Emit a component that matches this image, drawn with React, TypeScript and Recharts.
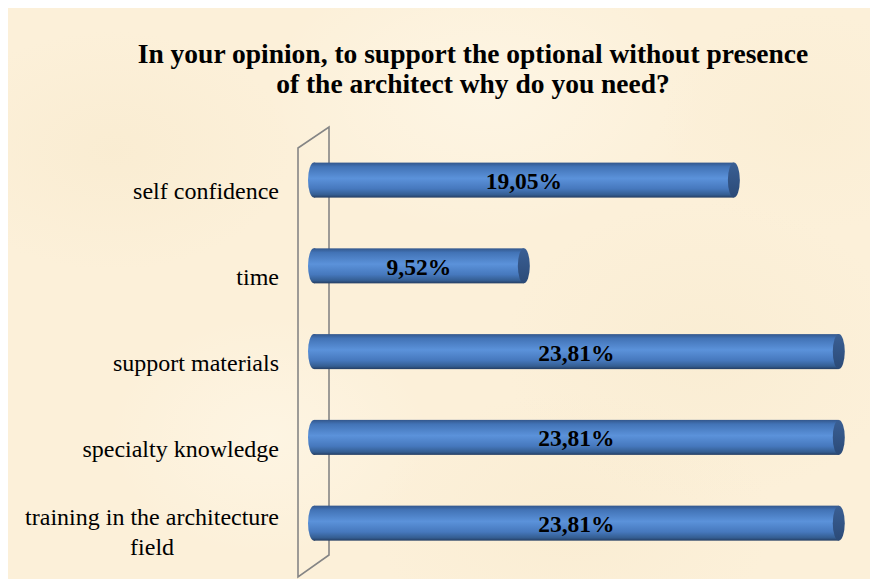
import React from "react";
import { BarChart, Bar, XAxis, YAxis, LabelList } from "recharts";

const categories = [
  "self confidence",
  "time",
  "support materials",
  "specialty knowledge",
  "training in the architecture\nfield",
];
const values = [19.05, 9.52, 23.81, 23.81, 23.81];
const titleLines = [
  "In your opinion, to support the optional without presence",
  "of the architect why do you need?",
];

const data = categories.map((name, i) => ({ name, value: values[i] }));

const SERIF = "'Liberation Serif', 'Times New Roman', serif";
const W = 870;
const H = 571;

let canvasCtx: CanvasRenderingContext2D | null = null;
function measure(text: string, font: string): number {
  if (typeof document === "undefined") return text.length * 10;
  if (!canvasCtx) canvasCtx = document.createElement("canvas").getContext("2d");
  if (!canvasCtx) return text.length * 10;
  canvasCtx.font = font;
  return canvasCtx.measureText(text).width;
}

const CategoryTick = (props: any) => {
  const { y, payload } = props;
  const lines = String(payload.value).split("\n");
  const right = 271;
  const font = `24px ${SERIF}`;
  const maxW = Math.max(...lines.map((l) => measure(l, font)));
  const multi = lines.length > 1;
  const cx = right - maxW / 2;
  const y0 = y + 19 - (lines.length - 1) * 17.5;
  return (
    <g>
      {lines.map((l, i) => (
        <text
          key={i}
          x={multi ? cx : right}
          y={y0 + i * 30}
          textAnchor={multi ? "middle" : "end"}
          fontFamily={SERIF}
          fontSize={24}
          fill="#000"
        >
          {l}
        </text>
      ))}
    </g>
  );
};

const Cylinder = (props: any) => {
  const { x, y, width, height } = props;
  const cy = y + height / 2;
  const rx = 6;
  return (
    <g>
      <rect x={x} y={y} width={width} height={height} fill="url(#cylGrad)" />
      <ellipse cx={x} cy={cy} rx={rx} ry={height / 2} fill="url(#cylGrad)" />
      <ellipse cx={x + width} cy={cy} rx={rx} ry={height / 2} fill="url(#capGrad)" />
    </g>
  );
};

const ValueLabel = (props: any) => {
  const { x, y, width, height, value } = props;
  const txt = Number(value).toFixed(2).replace(".", ",") + "%";
  return (
    <text
      x={x + width / 2}
      y={y + height / 2 + 9}
      textAnchor="middle"
      fontFamily={SERIF}
      fontWeight="bold"
      fontSize={23.5}
      fill="#000"
    >
      {txt}
    </text>
  );
};

const parchment =
  "radial-gradient(ellipse 180px 120px at 12% 25%, rgba(244,228,194,0.3), transparent)," +
  "radial-gradient(ellipse 220px 140px at 55% 15%, rgba(255,250,238,0.5), transparent)," +
  "radial-gradient(ellipse 200px 150px at 80% 60%, rgba(244,230,198,0.3), transparent)," +
  "radial-gradient(ellipse 160px 120px at 30% 75%, rgba(255,249,236,0.5), transparent)," +
  "radial-gradient(ellipse 200px 130px at 65% 90%, rgba(244,228,194,0.25), transparent)," +
  "radial-gradient(ellipse 150px 110px at 92% 20%, rgba(246,232,200,0.25), transparent)," +
  "#fcf0d9";

export default function App() {
  return (
    <div style={{ position: "relative", width: W, height: H, background: parchment }}>
      <svg width={W} height={H} style={{ position: "absolute", left: 0, top: 0 }}>
        <path
          d="M290,140 L321,119 L321,547 L290,569 Z"
          fill="none"
          stroke="#858585"
          strokeWidth={1.6}
        />
        {titleLines.map((t, i) => (
          <text
            key={i}
            x={465}
            y={55 + i * 30}
            textAnchor="middle"
            fontFamily={SERIF}
            fontWeight="bold"
            fontSize={27.5}
            fill="#000"
          >
            {t}
          </text>
        ))}
      </svg>
      <div style={{ position: "absolute", left: 0, top: 0 }}>
        <BarChart
          width={W}
          height={H}
          data={data}
          layout="vertical"
          margin={{ top: 129.6, right: 13, bottom: 12.6, left: 0 }}
          barSize={35}
        >
          <defs>
            <linearGradient id="cylGrad" x1="0" y1="0" x2="0" y2="1">
              <stop offset="0%" stopColor="#33578c" />
              <stop offset="12%" stopColor="#4273b6" />
              <stop offset="45%" stopColor="#5b92da" />
              <stop offset="75%" stopColor="#4678bd" />
              <stop offset="92%" stopColor="#345d91" />
              <stop offset="100%" stopColor="#243d62" />
            </linearGradient>
            <linearGradient id="capGrad" x1="0" y1="0" x2="0" y2="1">
              <stop offset="0%" stopColor="#3a5f94" />
              <stop offset="100%" stopColor="#2b4a77" />
            </linearGradient>
          </defs>
          <XAxis type="number" domain={[0, 25]} hide />
          <YAxis
            type="category"
            dataKey="name"
            width={306}
            axisLine={false}
            tickLine={false}
            tick={<CategoryTick />}
            interval={0}
          />
          <Bar dataKey="value" shape={<Cylinder />} isAnimationActive={false}>
            <LabelList dataKey="value" content={<ValueLabel />} />
          </Bar>
        </BarChart>
      </div>
    </div>
  );
}
